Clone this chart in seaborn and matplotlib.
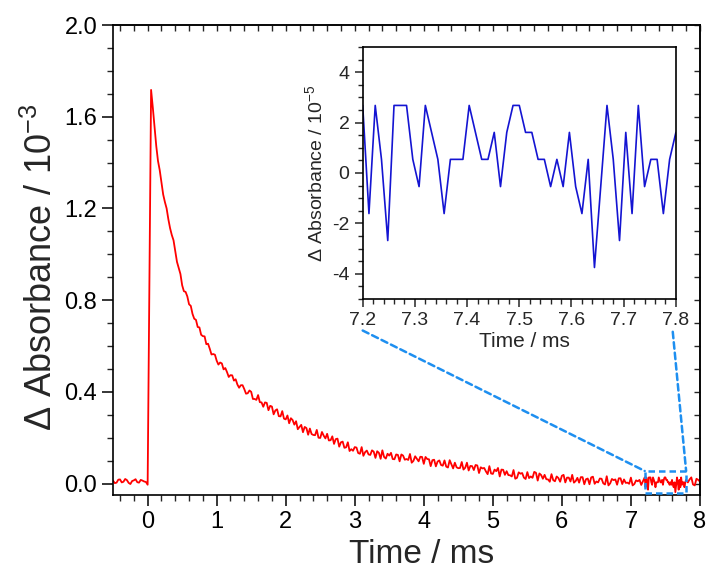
import pandas as pd
import matplotlib
matplotlib.use("Agg")
import matplotlib.pyplot as plt
import matplotlib.ticker as mtick
from matplotlib.patches import Rectangle, ConnectionPatch
import seaborn as sns

# Transient absorption trace (ΔA in units of 1e-3), time in ms
t_main = [
    -0.50, -0.45, -0.40, -0.35, -0.30, -0.25, -0.20, -0.15, -0.10, -0.05,
    0.00, 0.05, 0.10, 0.15, 0.20, 0.25, 0.30, 0.35, 0.40, 0.45,
    0.50, 0.55, 0.60, 0.65, 0.70, 0.75, 0.80, 0.85, 0.90, 0.95,
    1.00, 1.05, 1.10, 1.15, 1.20, 1.25, 1.30, 1.35, 1.40, 1.45,
    1.50, 1.55, 1.60, 1.65, 1.70, 1.75, 1.80, 1.85, 1.90, 1.95,
    2.00, 2.05, 2.10, 2.15, 2.20, 2.25, 2.30, 2.35, 2.40, 2.45,
    2.50, 2.55, 2.60, 2.65, 2.70, 2.75, 2.80, 2.85, 2.90, 2.95,
    3.00, 3.05, 3.10, 3.15, 3.20, 3.25, 3.30, 3.35, 3.40, 3.45,
    3.50, 3.55, 3.60, 3.65, 3.70, 3.75, 3.80, 3.85, 3.90, 3.95,
    4.00, 4.05, 4.10, 4.15, 4.20, 4.25, 4.30, 4.35, 4.40, 4.45,
    4.50, 4.55, 4.60, 4.65, 4.70, 4.75, 4.80, 4.85, 4.90, 4.95,
    5.00, 5.05, 5.10, 5.15, 5.20, 5.25, 5.30, 5.35, 5.40, 5.45,
    5.50, 5.55, 5.60, 5.65, 5.70, 5.75, 5.80, 5.85, 5.90, 5.95,
    6.00, 6.05, 6.10, 6.15, 6.20, 6.25, 6.30, 6.35, 6.40, 6.45,
    6.50, 6.55, 6.60, 6.65, 6.70, 6.75, 6.80, 6.85, 6.90, 6.95,
    7.00, 7.05, 7.10, 7.15, 7.85, 7.90, 7.95, 8.00,
]
a_main = [
    0.012, 0.004, 0.018, 0.008, 0.015, -0.002, 0.014, 0.006, 0.016, 0.009,
    -0.005, 1.717, 1.554, 1.407, 1.315, 1.228, 1.153, 1.084, 1.014, 0.941,
    0.865, 0.836, 0.782, 0.740, 0.714, 0.681, 0.643, 0.608, 0.588, 0.565,
    0.536, 0.528, 0.498, 0.486, 0.473, 0.449, 0.432, 0.429, 0.412, 0.394,
    0.400, 0.369, 0.386, 0.354, 0.354, 0.320, 0.336, 0.319, 0.294, 0.316,
    0.280, 0.263, 0.277, 0.272, 0.247, 0.224, 0.242, 0.240, 0.212, 0.234,
    0.199, 0.209, 0.217, 0.189, 0.173, 0.196, 0.180, 0.156, 0.180, 0.150,
    0.159, 0.133, 0.159, 0.137, 0.127, 0.145, 0.112, 0.134, 0.145, 0.109,
    0.122, 0.107, 0.127, 0.097, 0.122, 0.107, 0.129, 0.099, 0.108, 0.117,
    0.086, 0.107, 0.076, 0.104, 0.096, 0.081, 0.101, 0.070, 0.084, 0.091,
    0.067, 0.094, 0.069, 0.057, 0.076, 0.081, 0.046, 0.066, 0.053, 0.076,
    0.042, 0.054, 0.031, 0.060, 0.054, 0.036, 0.059, 0.025, 0.043, 0.026,
    0.050, 0.031, 0.051, 0.013, 0.037, 0.038, 0.018, 0.041, 0.010, 0.024,
    0.034, 0.005, 0.026, 0.038, 0.011, 0.004, 0.028, 0.019, -0.003, 0.030,
    0.009, 0.022, 0.001, 0.032, 0.001, 0.015, -0.005, 0.023, 0.018, 0.004,
    0.026, -0.002, 0.010, -0.006, 0.018, -0.004, 0.021, 0.009,
]

# in-between samples
t_half = [
    -0.475, -0.425, -0.375, -0.325, -0.275, -0.225, -0.175, -0.125, -0.075, -0.025,
    0.075, 0.125, 0.175, 0.225, 0.275, 0.325, 0.375, 0.425, 0.475, 0.525,
    0.575, 0.625, 0.675, 0.725, 0.775, 0.825, 0.875, 0.925, 0.975, 1.025,
    1.075, 1.125, 1.175, 1.225, 1.275, 1.325, 1.375, 1.425, 1.475,
    1.525, 1.575, 1.625, 1.675, 1.725, 1.775, 1.825, 1.875, 1.925, 1.975,
    2.025, 2.075, 2.125, 2.175, 2.225, 2.275, 2.325, 2.375, 2.425, 2.475,
    2.525, 2.575, 2.625, 2.675, 2.725, 2.775, 2.825, 2.875, 2.925, 2.975,
    3.025, 3.075, 3.125, 3.175, 3.225, 3.275, 3.325, 3.375, 3.425, 3.475,
    3.525, 3.575, 3.625, 3.675, 3.725, 3.775, 3.825, 3.875, 3.925, 3.975,
    4.025, 4.075, 4.125, 4.175, 4.225, 4.275, 4.325, 4.375, 4.425, 4.475,
    4.525, 4.575, 4.625, 4.675, 4.725, 4.775, 4.825, 4.875, 4.925, 4.975,
    5.025, 5.075, 5.125, 5.175, 5.225, 5.275, 5.325, 5.375, 5.425, 5.475,
    5.525, 5.575, 5.625, 5.675, 5.725, 5.775, 5.825, 5.875, 5.925, 5.975,
    6.025, 6.075, 6.125, 6.175, 6.225, 6.275, 6.325, 6.375, 6.425, 6.475,
    6.525, 6.575, 6.625, 6.675, 6.725, 6.775, 6.825, 6.875, 6.925, 6.975,
    7.025, 7.075, 7.125, 7.825, 7.875, 7.925, 7.975,
]
a_half = [
    0.002, 0.017, 0.005, 0.020, 0.003, 0.011, 0.019, 0.004, 0.013, 0.007,
    1.640, 1.472, 1.367, 1.261, 1.200, 1.114, 1.061, 0.967, 0.914, 0.839,
    0.816, 0.775, 0.719, 0.683, 0.649, 0.642, 0.610, 0.563, 0.562, 0.519,
    0.524, 0.504, 0.465, 0.472, 0.455, 0.418, 0.429, 0.392, 0.406,
    0.369, 0.365, 0.355, 0.335, 0.352, 0.339, 0.302, 0.324, 0.293, 0.283,
    0.297, 0.285, 0.257, 0.237, 0.256, 0.247, 0.213, 0.216, 0.211, 0.200,
    0.225, 0.197, 0.188, 0.206, 0.194, 0.161, 0.183, 0.158, 0.142, 0.143,
    0.157, 0.130, 0.121, 0.144, 0.125, 0.139, 0.141, 0.108, 0.116, 0.130,
    0.134, 0.106, 0.125, 0.127, 0.104, 0.103, 0.091, 0.119, 0.097, 0.116,
    0.116, 0.106, 0.102, 0.075, 0.101, 0.078, 0.074, 0.102, 0.066, 0.071,
    0.068, 0.061, 0.091, 0.077, 0.059, 0.079, 0.071, 0.068, 0.041, 0.044,
    0.061, 0.068, 0.061, 0.038, 0.037, 0.031, 0.021, 0.049, 0.046, 0.020,
    0.024, 0.025, 0.047, 0.044, 0.021, 0.019, 0.008, 0.015, 0.031, 0.008,
    0.038, 0.026, 0.009, 0.004, 0.025, 0.028, -0.003, 0.022, 0.027, -0.001,
    0.005, 0.021, -0.004, -0.008, 0.020, 0.018, 0.023, -0.002, 0.003, -0.001,
    -0.008, 0.014, 0.016, 0.005, 0.027, -0.008, 0.016,
]

# Zoomed tail 7.2-7.8 ms (ΔA in units of 1e-5)
t_zoom = [
    7.200, 7.212, 7.224, 7.236, 7.248, 7.260, 7.272, 7.284, 7.296, 7.308,
    7.320, 7.332, 7.344, 7.356, 7.368, 7.380, 7.392, 7.404, 7.416, 7.428,
    7.440, 7.452, 7.464, 7.476, 7.488, 7.500, 7.512, 7.524, 7.536, 7.548,
    7.560, 7.572, 7.584, 7.596, 7.608, 7.620, 7.632, 7.644, 7.656, 7.668,
    7.680, 7.692, 7.704, 7.716, 7.728, 7.740, 7.752, 7.764, 7.776, 7.788,
    7.800,
]
a_zoom = [
    2.68, -1.61, 2.68, 0.54, -2.68, 2.68, 2.68, 2.68, 0.54, -0.54,
    2.68, 1.61, 0.54, -1.61, 0.54, 0.54, 0.54, 2.68, 1.61, 0.54,
    0.54, 1.61, -0.54, 1.61, 2.68, 2.68, 1.61, 1.61, 0.54, 0.54,
    -0.54, 0.54, -0.54, 1.61, -0.54, -1.61, 0.54, -3.75, -0.54, 2.68,
    0.54, -2.68, 1.61, -1.61, 2.68, -0.54, 0.54, 0.54, -1.61, 0.54,
    1.61,
]

df_zoom = pd.DataFrame({"time": t_zoom, "dA": a_zoom})
df_main = pd.concat([
    pd.DataFrame({"time": t_main, "dA": a_main}),
    pd.DataFrame({"time": t_half, "dA": a_half}),
    pd.DataFrame({"time": t_zoom, "dA": [v / 100 for v in a_zoom]}),
]).sort_values("time")

sns.set_theme(style="ticks")
plt.rcParams["font.family"] = ["Liberation Sans", "DejaVu Sans"]
plt.rcParams["mathtext.fontset"] = "custom"
plt.rcParams["mathtext.rm"] = "Liberation Sans"
plt.rcParams["mathtext.it"] = "Liberation Sans:italic"
plt.rcParams["mathtext.default"] = "regular"
plt.rcParams["axes.unicode_minus"] = False

fig = plt.figure(figsize=(7.07, 5.69), dpi=100)
ax = fig.add_axes([0.160, 0.130, 0.830, 0.826])

sns.lineplot(data=df_main, x="time", y="dA", ax=ax, color="#ff0000",
             linewidth=1.3, sort=False, estimator=None)
ax.set_xlim(-0.5, 8)
ax.set_ylim(-0.05, 2.0)
ax.xaxis.set_major_locator(mtick.MultipleLocator(1))
ax.xaxis.set_minor_locator(mtick.MultipleLocator(0.2))
ax.yaxis.set_major_locator(mtick.MultipleLocator(0.4))
ax.yaxis.set_minor_locator(mtick.MultipleLocator(0.1))
ax.yaxis.set_major_formatter(mtick.FormatStrFormatter("%.1f"))
ax.tick_params(which="major", direction="out", length=8, width=1.1,
               labelsize=17, color="black", labelcolor="black")
ax.tick_params(which="minor", direction="out", length=4.5, width=1.0)
ax.set_xlabel("Time / ms", fontsize=24, labelpad=4)
ax.set_ylabel(r"$\Delta$ Absorbance / $10^{-3}$", fontsize=26, labelpad=3)
ax.xaxis.label.set_x(0.525)
ax.yaxis.label.set_y(0.485)
for s in ax.spines.values():
    s.set_linewidth(1.2)
    s.set_color("black")

# inward ticks on top and right
top = ax.secondary_xaxis("top")
top.xaxis.set_major_locator(mtick.MultipleLocator(1))
top.xaxis.set_minor_locator(mtick.MultipleLocator(0.2))
top.tick_params(which="both", direction="in", length=4.5, width=1.0, labeltop=False)
right = ax.secondary_yaxis("right")
right.yaxis.set_major_locator(mtick.MultipleLocator(0.4))
right.yaxis.set_minor_locator(mtick.MultipleLocator(0.1))
right.tick_params(which="both", direction="in", length=4.5, width=1.0, labelright=False)
for sec in (top, right):
    for s in sec.spines.values():
        s.set_linewidth(1.2)

# zoom box and connectors
dash_col = "#1e8ff0"
ax.add_patch(Rectangle((7.2, -0.04), 0.6, 0.095, fill=False, edgecolor=dash_col,
                       linewidth=1.8, linestyle=(0, (2.6, 1.6)), clip_on=False, zorder=5))

# Inset
axins = fig.add_axes([0.513, 0.4745, 0.443, 0.443])
sns.lineplot(data=df_zoom, x="time", y="dA", ax=axins, color="#1414d2",
             linewidth=1.2, sort=False, estimator=None)
axins.set_xlim(7.2, 7.8)
axins.set_ylim(-5, 5)
axins.xaxis.set_major_locator(mtick.MultipleLocator(0.1))
axins.xaxis.set_minor_locator(mtick.MultipleLocator(0.02))
axins.yaxis.set_major_locator(mtick.MultipleLocator(2))
axins.yaxis.set_minor_locator(mtick.MultipleLocator(0.5))
axins.xaxis.set_major_formatter(mtick.FormatStrFormatter("%.1f"))
axins.tick_params(which="major", direction="out", length=6, width=1.1, labelsize=14)
axins.tick_params(which="minor", direction="out", length=3.5, width=1.0)
axins.set_xlabel("Time / ms", fontsize=15, labelpad=2)
axins.set_ylabel(r"$\Delta$ Absorbance / $10^{-5}$", fontsize=14, labelpad=4)
axins.xaxis.label.set_x(0.515)
for s in axins.spines.values():
    s.set_linewidth(1.2)
    s.set_color("black")

for xa, xb in [((0.0, -0.125), (7.2, 0.055)), ((0.99, -0.13), (7.8, 0.055))]:
    con = ConnectionPatch(xyA=xa, coordsA=axins.transAxes, xyB=xb, coordsB=ax.transData,
                          color=dash_col, linewidth=1.8, linestyle=(0, (2.6, 1.6)))
    fig.add_artist(con)

fig.savefig("out.png", dpi=100)
